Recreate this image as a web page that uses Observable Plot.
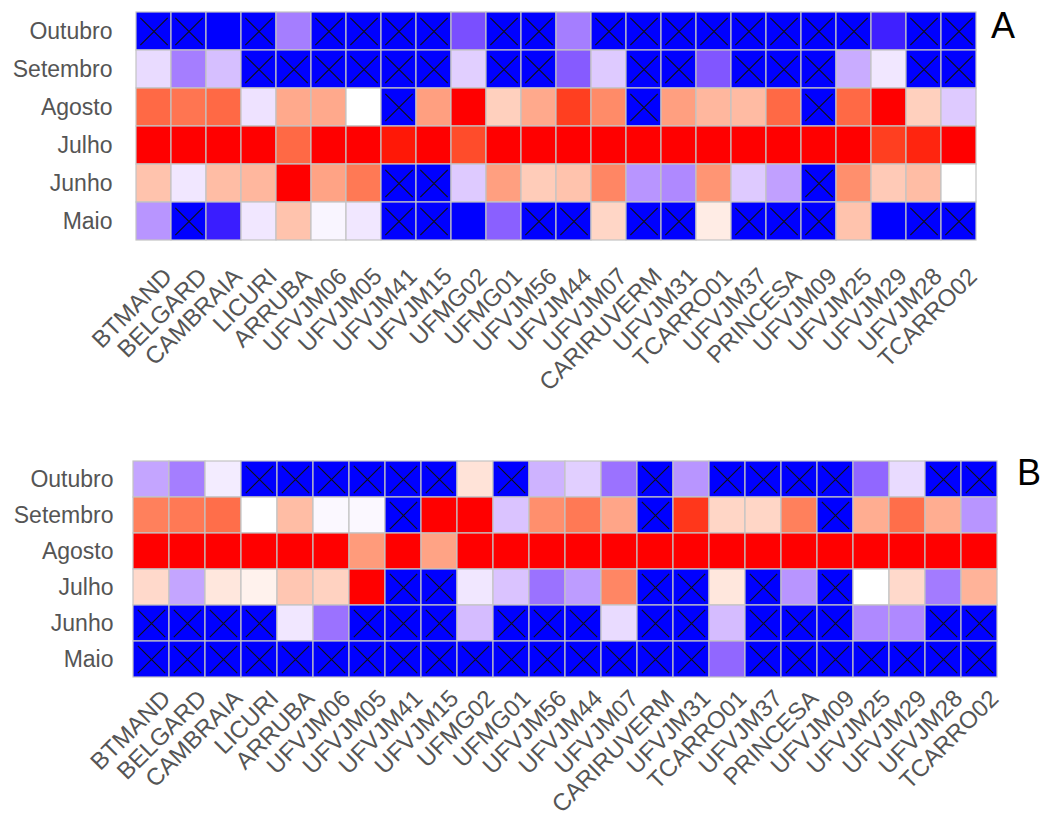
<!DOCTYPE html>
<html><head><meta charset="utf-8">
<script src="https://cdn.jsdelivr.net/npm/d3@7"></script>
<script src="https://cdn.jsdelivr.net/npm/@observablehq/plot@0.6"></script>
<style>
body{margin:0;background:#fff;}
#wrap{position:relative;width:1051px;height:821px;font-family:"Liberation Sans",Arial,sans-serif;overflow:hidden;}
.panel{position:absolute;left:0;overflow:visible;}
.tag{position:absolute;font-size:36px;line-height:1;color:#000;}
</style></head><body>
<div id="wrap"></div>
<script>
// Genotypes (x categories)
const genotypes = ["BTMAND","BELGARD","CAMBRAIA","LICURI","ARRUBA","UFVJM06","UFVJM05","UFVJM41","UFVJM15","UFMG02","UFMG01","UFVJM56","UFVJM44","UFVJM07","CARIRUVERM","UFVJM31","TCARRO01","UFVJM37","PRINCESA","UFVJM09","UFVJM25","UFVJM29","UFVJM28","TCARRO02"];
// Months (y categories, top to bottom)
const months = ["Outubro","Setembro","Agosto","Julho","Junho","Maio"];

// Panel A values (-1 blue .. 0 white .. 1 red); null = not detected (blue cell with X)
const aOutubro  = [null,null,-1,null,-0.55,null,null,null,null,-0.75,null,null,-0.55,null,null,null,null,null,null,null,null,-0.93,null,null];
const aSetembro = [-0.15,-0.55,-0.27,null,null,null,null,null,null,-0.2,null,null,-0.7,-0.22,null,null,-0.72,null,null,null,-0.35,-0.1,null,null];
const aAgosto   = [0.75,0.7,0.75,-0.12,0.45,0.45,0,null,0.5,1,0.25,0.45,0.9,0.6,null,0.5,0.38,0.36,0.75,null,0.75,1,0.25,-0.22];
const aJulho    = [1,1,1,1,0.75,1,1,0.98,1,0.86,1,1,1,1,1,1,1,1,1,1,1,0.9,0.96,1];
const aJunho    = [0.32,-0.1,0.35,0.38,1,0.48,0.68,null,null,-0.22,0.5,0.27,0.32,0.62,-0.45,-0.5,0.55,-0.22,-0.4,null,0.58,0.28,0.35,0];
const aMaio     = [-0.45,null,-0.94,-0.1,0.32,-0.04,-0.1,null,null,-1,-0.68,null,null,0.22,null,null,0.1,null,null,null,0.32,-1,null,null];

// Panel B values
const bOutubro  = [-0.38,-0.55,-0.08,null,null,null,null,null,null,0.15,null,-0.32,-0.2,-0.6,null,-0.45,null,null,null,null,-0.65,-0.15,null,null];
const bSetembro = [0.65,0.68,0.73,0,0.35,-0.03,-0.03,null,1,1,-0.25,0.58,0.68,0.47,null,0.92,0.22,0.22,0.65,null,0.43,0.73,0.43,-0.45];
const bAgosto   = [1,1,1,1,1,1,0.52,1,0.48,1,1,1,1,1,1,1,1,1,1,1,1,1,1,1];
const bJulho    = [0.2,-0.38,0.13,0.07,0.3,0.24,1,null,null,-0.1,-0.25,-0.6,-0.42,0.62,null,null,0.13,null,-0.45,null,0,0.2,-0.56,0.4];
const bJunho    = [null,null,null,null,-0.1,-0.6,null,null,null,-0.28,null,null,null,-0.15,null,null,-0.28,null,null,null,-0.5,-0.5,null,null];
const bMaio     = [null,null,null,null,null,null,null,null,null,null,null,null,null,null,null,null,-0.65,null,null,null,null,null,null,null];

const panelLabels = ["A","B"];

function table(rowsByMonth) {
  const data = [];
  months.forEach(m => rowsByMonth[m].forEach((v, i) => data.push({
    month: m, genotype: genotypes[i], value: v == null ? -1 : v, absent: v == null
  })));
  return data;
}

function heat(data, o) {
  return Plot.plot({
    width: 1051, height: o.height,
    marginTop: o.mt, marginBottom: o.mb, marginLeft: o.ml, marginRight: o.mr,
    style: {fontFamily: "Liberation Sans, Arial, sans-serif", fontSize: "23px", color: "#555", background: "transparent"},
    x: {domain: genotypes, padding: 0},
    y: {domain: months, padding: 0},
    color: {type: "linear", domain: [-1, 0, 1], range: ["blue", "white", "red"], interpolate: "lab"},
    marks: [
      Plot.cell(data, {x: "genotype", y: "month", fill: "value", stroke: "#c4c4c4", strokeWidth: 1.2}),
      Plot.dot(data.filter(d => d.absent), {x: "genotype", y: "month", symbol: "times", r: 12.5, stroke: "#111", strokeWidth: 1.1}),
      Plot.axisX({tickRotate: -45, tickSize: 0, tickPadding: 10, fontSize: 24, dx: o.dx, dy: o.dy, label: null}),
      Plot.axisY({tickSize: 0, tickPadding: 16, fontSize: 23, label: null})
    ]
  });
}

const wrap = document.getElementById("wrap");
const dataA = table({Outubro: aOutubro, Setembro: aSetembro, Agosto: aAgosto, Julho: aJulho, Junho: aJunho, Maio: aMaio});
const dataB = table({Outubro: bOutubro, Setembro: bSetembro, Agosto: bAgosto, Julho: bJulho, Junho: bJunho, Maio: bMaio});

const pA = heat(dataA, {height: 440, mt: 10, mb: 198, ml: 128, mr: 67, dx: 14, dy: 20});
pA.classList.add("panel"); pA.style.top = "0px";
wrap.appendChild(pA);
const pB = heat(dataB, {height: 381, mt: 19, mb: 143, ml: 129, mr: 50, dx: 15, dy: 6});
pB.classList.add("panel"); pB.style.top = "440px";
wrap.appendChild(pB);

const tA = document.createElement("div"); tA.className = "tag"; tA.textContent = panelLabels[0];
tA.style.left = "991px"; tA.style.top = "8px"; wrap.appendChild(tA);
const tB = document.createElement("div"); tB.className = "tag"; tB.textContent = panelLabels[1];
tB.style.left = "1017px"; tB.style.top = "455px"; wrap.appendChild(tB);
</script>
</body></html>
